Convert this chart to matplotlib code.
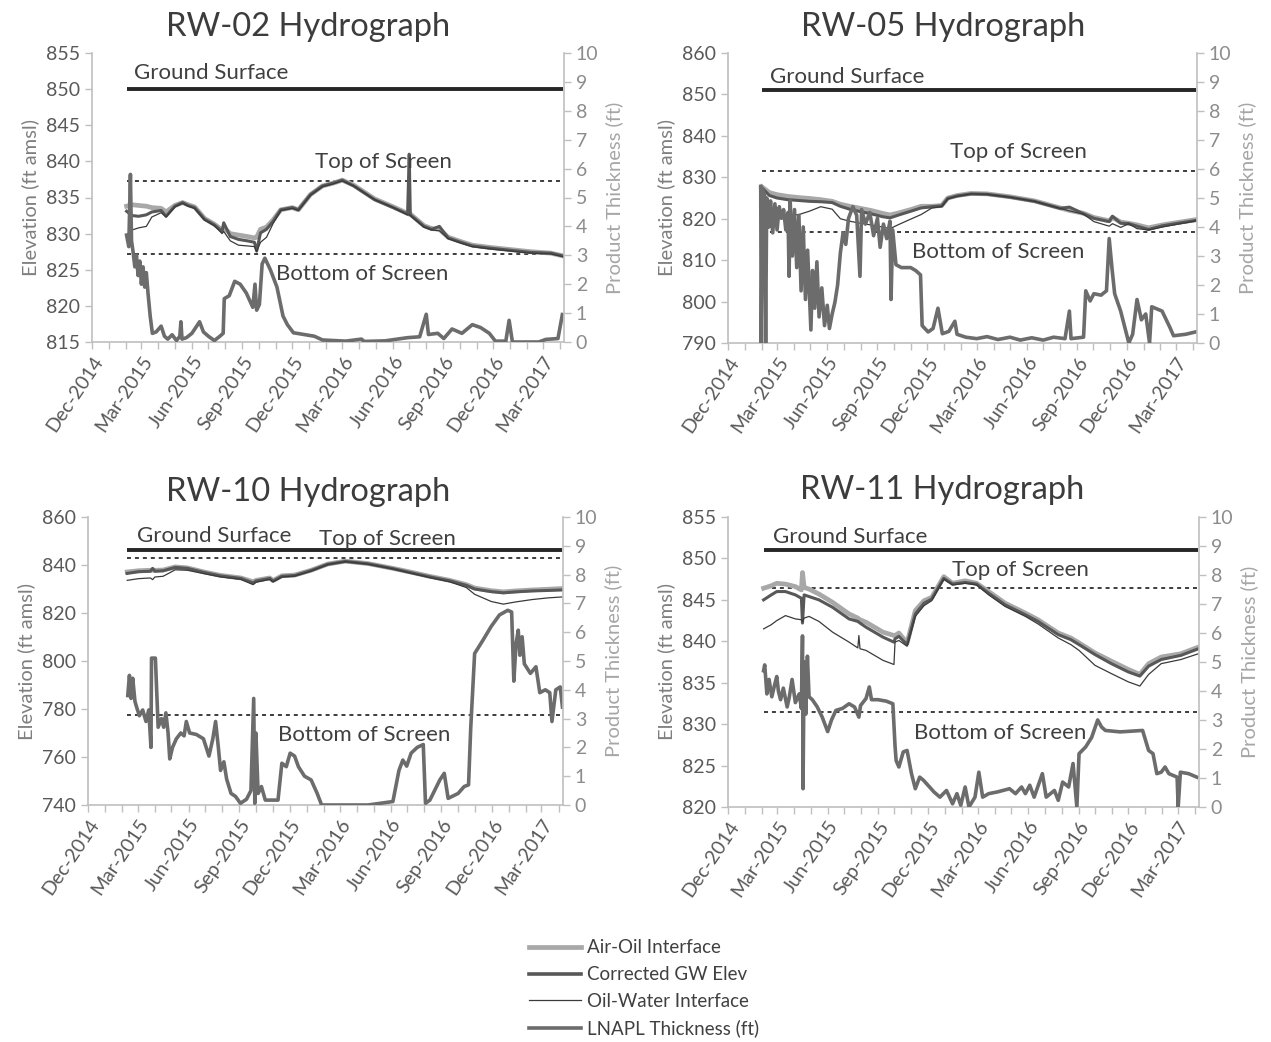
import matplotlib
matplotlib.use("Agg")
import matplotlib.pyplot as plt
import matplotlib.dates as mdates
from matplotlib.lines import Line2D
import pandas as pd

plt.rcParams["font.family"] = ["Lato", "DejaVu Sans"]

W, H = 1271, 1042

# ---------------- RW-02 ----------------
rw02_dates = ["2015-02-02", "2015-02-12", "2015-02-24", "2015-03-10", "2015-03-20", "2015-04-06",
              "2015-04-15", "2015-05-01", "2015-05-15", "2015-05-25", "2015-06-06", "2015-06-24",
              "2015-07-12", "2015-07-26", "2015-07-29", "2015-08-10", "2015-08-25", "2015-09-10",
              "2015-09-23", "2015-09-27", "2015-10-04", "2015-10-15", "2015-10-27", "2015-11-10",
              "2015-12-01", "2015-12-12", "2016-01-03", "2016-01-25", "2016-02-14", "2016-03-01",
              "2016-03-22", "2016-04-29", "2016-06-02", "2016-06-28", "2016-07-01", "2016-07-03",
              "2016-07-28", "2016-08-11", "2016-08-25", "2016-09-10", "2016-10-03", "2016-10-24",
              "2016-11-24", "2017-01-01", "2017-02-07", "2017-03-16", "2017-04-08"]
rw02_air_oil = [833.8, 834.0, 833.9, 833.8, 833.6, 833.5, 833.0, 833.9, 834.3, 834.0, 833.7, 832.1,
                831.3, 830.5, 830.8, 830.0, 829.8, 829.6, 829.4, 829.5, 830.6, 830.9, 831.9, 833.3,
                833.6, 833.3, 835.4, 836.6, 837.0, 837.4, 836.7, 834.8, 833.7, 832.8, 832.7, 832.7,
                831.1, 830.7, 830.6, 829.5, 828.9, 828.4, 828.1, 827.8, 827.5, 827.3, 826.9]
rw02_corrected = [833.1, 832.5, 832.4, 832.6, 833.0, 833.2, 832.4, 833.8, 834.3, 833.9, 833.6, 832.0,
                  831.2, 830.3, 831.5, 829.6, 829.2, 829.0, 828.8, 827.6, 830.1, 830.6, 831.7, 833.3,
                  833.6, 833.3, 835.4, 836.6, 837.0, 837.4, 836.6, 834.7, 833.6, 832.7, 841.0, 832.6,
                  831.0, 830.6, 831.0, 829.4, 828.8, 828.3, 828.0, 827.7, 827.4, 827.3, 826.9]
rw02_oil_water = [829.8, 830.5, 830.8, 831.0, 832.3, 832.9, 832.3, 833.7, 834.2, 833.8, 833.5, 831.9,
                  831.1, 830.0, 830.3, 829.0, 828.4, 828.3, 828.2, 827.5, 828.8, 829.5, 831.4, 833.2,
                  833.5, 833.2, 835.3, 836.5, 836.9, 837.3, 836.6, 834.7, 833.6, 832.6, 832.6, 832.5,
                  830.9, 830.5, 830.4, 829.3, 828.7, 828.2, 827.9, 827.6, 827.3, 827.2, 826.8]
rw02_lnapl_dates = ["2015-02-02", "2015-02-06", "2015-02-09", "2015-02-11", "2015-02-14", "2015-02-17",
                    "2015-02-20", "2015-02-23", "2015-02-26", "2015-03-01", "2015-03-04", "2015-03-07",
                    "2015-03-10", "2015-03-13", "2015-03-17", "2015-03-21", "2015-03-28", "2015-04-06",
                    "2015-04-12", "2015-04-18", "2015-04-26", "2015-05-04", "2015-05-10", "2015-05-12",
                    "2015-05-14", "2015-05-22", "2015-06-01", "2015-06-15", "2015-06-22", "2015-07-01",
                    "2015-07-12", "2015-07-22", "2015-07-28", "2015-07-30", "2015-08-08", "2015-08-18",
                    "2015-08-28", "2015-09-08", "2015-09-20", "2015-09-24", "2015-09-27", "2015-10-02",
                    "2015-10-07", "2015-10-12", "2015-10-22", "2015-11-03", "2015-11-14", "2015-11-22",
                    "2015-12-03", "2015-12-22", "2016-01-10", "2016-01-25", "2016-03-07", "2016-04-05",
                    "2016-04-10", "2016-05-18", "2016-06-28", "2016-07-20", "2016-08-01", "2016-08-05",
                    "2016-08-22", "2016-09-02", "2016-09-17", "2016-10-05", "2016-10-24", "2016-11-08",
                    "2016-11-24", "2016-12-05", "2016-12-24", "2016-12-30", "2017-01-05", "2017-02-22",
                    "2017-03-07", "2017-03-29", "2017-04-06"]
rw02_lnapl = [3.7, 3.3, 5.8, 3.5, 3.1, 2.6, 3.0, 2.3, 2.8, 2.0, 2.6, 1.9, 2.4, 1.7, 0.9, 0.3, 0.35, 0.55,
              0.2, 0.1, 0.25, 0.05, 0.2, 0.7, 0.1, 0.15, 0.3, 0.7, 0.35, 0.2, 0.05, 0.2, 0.3, 1.5, 1.6,
              2.1, 2.0, 1.7, 1.2, 2.0, 1.1, 1.3, 2.7, 2.9, 2.5, 1.9, 0.9, 0.6, 0.32, 0.26, 0.2, 0.07,
              0.03, 0.1, 0.02, 0.04, 0.15, 0.18, 0.96, 0.26, 0.3, 0.12, 0.45, 0.3, 0.6, 0.5, 0.3, 0.03,
              0.03, 0.75, 0.0, 0.0, 0.09, 0.12, 0.95]
rw02_levels = [850.0, 837.3, 827.2]  # ground surface, top of screen, bottom of screen

# ---------------- RW-05 ----------------
rw05_dates = ["2015-02-01", "2015-02-15", "2015-03-01", "2015-03-20", "2015-04-10", "2015-04-29",
              "2015-05-20", "2015-06-10", "2015-06-25", "2015-07-12", "2015-08-01", "2015-08-20",
              "2015-09-10", "2015-09-24", "2015-10-10", "2015-11-01", "2015-11-20", "2015-12-10",
              "2015-12-28", "2016-01-08", "2016-01-25", "2016-02-20", "2016-03-20", "2016-05-01",
              "2016-06-15", "2016-08-01", "2016-08-18", "2016-09-13", "2016-10-02", "2016-10-30",
              "2016-11-05", "2016-11-20", "2016-12-05", "2016-12-20", "2017-01-10", "2017-02-05",
              "2017-03-05", "2017-04-08"]
rw05_air_oil = [827.7, 826.3, 825.8, 825.4, 825.1, 824.9, 824.6, 824.2, 823.5, 823.0, 822.5, 822.0,
                821.3, 820.9, 821.4, 822.2, 823.0, 823.0, 823.2, 825.0, 825.6, 826.1, 826.0, 825.3,
                824.3, 822.6, 822.0, 821.3, 820.3, 819.5, 820.3, 819.2, 818.9, 818.5, 817.8, 818.5,
                819.1, 819.8]
rw05_corrected = [827.5, 825.6, 825.0, 824.6, 824.4, 824.2, 824.1, 823.9, 823.0, 822.3, 821.7, 821.2,
                  820.5, 820.2, 820.9, 821.8, 822.6, 822.9, 823.1, 824.9, 825.5, 826.0, 825.9, 825.2,
                  824.2, 822.5, 822.8, 821.2, 820.1, 819.3, 820.6, 818.9, 818.8, 818.2, 817.4, 818.3,
                  818.9, 819.6]
rw05_oil_water = [822.5, 821.5, 821.8, 820.8, 821.0, 821.8, 822.9, 822.3, 820.0, 819.4, 818.9, 818.5,
                  818.0, 817.6, 818.6, 819.9, 821.0, 822.6, 822.9, 824.8, 825.4, 826.0, 825.9, 825.2,
                  824.2, 822.5, 821.9, 821.1, 819.3, 818.2, 818.8, 817.9, 818.8, 817.6, 817.3, 818.0,
                  818.7, 819.5]
rw05_lnapl_dates = ["2015-01-30", "2015-01-31", "2015-02-02", "2015-02-06", "2015-02-08", "2015-02-10",
                    "2015-02-14", "2015-02-17", "2015-02-21", "2015-02-25", "2015-03-01", "2015-03-05",
                    "2015-03-09", "2015-03-13", "2015-03-17", "2015-03-21", "2015-03-23", "2015-03-25",
                    "2015-03-29", "2015-04-02", "2015-04-06", "2015-04-10", "2015-04-14", "2015-04-18",
                    "2015-04-22", "2015-04-26", "2015-05-02", "2015-05-05", "2015-05-09", "2015-05-13",
                    "2015-05-17", "2015-05-22", "2015-05-27", "2015-06-01", "2015-06-05", "2015-06-10",
                    "2015-06-15", "2015-06-20", "2015-06-25", "2015-06-30", "2015-07-05", "2015-07-10",
                    "2015-07-18", "2015-07-25", "2015-07-31", "2015-08-03", "2015-08-10", "2015-08-18",
                    "2015-08-25", "2015-09-01", "2015-09-06", "2015-09-12", "2015-09-18", "2015-09-24",
                    "2015-09-26", "2015-09-29", "2015-10-05", "2015-10-15", "2015-11-01", "2015-11-10",
                    "2015-11-19", "2015-11-22", "2015-12-03", "2015-12-12", "2015-12-21", "2015-12-29",
                    "2016-01-10", "2016-01-21", "2016-01-25", "2016-02-10", "2016-03-01", "2016-03-20",
                    "2016-04-09", "2016-05-01", "2016-05-20", "2016-06-10", "2016-07-01", "2016-07-20",
                    "2016-08-10", "2016-08-18", "2016-08-21", "2016-09-13", "2016-09-17", "2016-09-25",
                    "2016-10-02", "2016-10-15", "2016-10-25", "2016-10-30", "2016-11-04", "2016-11-09",
                    "2016-11-20", "2016-12-05", "2016-12-12", "2016-12-20", "2016-12-28", "2017-01-05",
                    "2017-01-12", "2017-01-16", "2017-02-04", "2017-02-18", "2017-02-25", "2017-03-19",
                    "2017-04-06"]
rw05_lnapl = [5.4, 0.0, 5.3, 5.1, 0.0, 5.0, 4.0, 4.9, 3.8, 4.8, 3.9, 4.7, 4.3, 4.6, 3.9, 4.5, 2.3, 4.9,
              3.0, 4.6, 2.6, 4.4, 1.8, 4.0, 1.5, 3.2, 0.45, 2.5, 1.2, 2.8, 0.9, 1.9, 0.6, 1.3, 0.5, 1.0,
              1.4, 2.0, 3.1, 3.8, 3.4, 4.3, 4.7, 4.4, 2.3, 4.6, 4.1, 4.5, 3.7, 4.3, 3.3, 4.1, 3.6, 4.2,
              1.5, 3.9, 2.7, 2.6, 2.6, 2.5, 2.35, 0.6, 0.38, 0.5, 1.2, 0.32, 0.4, 0.75, 0.3, 0.2, 0.15,
              0.22, 0.12, 0.2, 0.1, 0.18, 0.1, 0.2, 0.15, 1.1, 0.15, 0.2, 1.8, 1.45, 1.7, 1.65, 1.8, 3.6,
              2.6, 1.7, 1.1, 0.0, 0.3, 1.5, 0.8, 1.0, 0.0, 1.25, 1.1, 0.55, 0.25, 0.3, 0.38]
rw05_levels = [851.1, 831.4, 816.7]

# ---------------- RW-10 ----------------
rw10_dates = ["2015-02-10", "2015-03-02", "2015-03-24", "2015-03-28", "2015-04-01", "2015-04-16",
              "2015-05-08", "2015-05-30", "2015-06-29", "2015-07-28", "2015-09-04", "2015-09-26",
              "2015-10-01", "2015-10-26", "2015-11-01", "2015-11-17", "2015-12-10", "2016-01-09",
              "2016-02-08", "2016-03-11", "2016-04-21", "2016-06-05", "2016-07-04", "2016-08-10",
              "2016-09-16", "2016-10-16", "2016-10-31", "2016-11-30", "2016-12-22", "2017-01-13",
              "2017-02-12", "2017-03-13", "2017-04-08"]
rw10_air_oil = [837.1, 837.6, 837.8, 837.8, 837.8, 837.9, 839.2, 838.8, 837.1, 835.7, 834.6, 833.0,
                833.6, 834.6, 833.5, 835.5, 835.8, 837.8, 840.4, 841.6, 840.6, 838.6, 837.2, 835.3,
                833.6, 831.8, 830.4, 829.3, 828.8, 829.2, 829.6, 829.9, 830.2]
rw10_corrected = [836.5, 837.2, 837.4, 838.6, 837.4, 837.6, 839.0, 838.6, 836.9, 835.5, 834.4, 832.5,
                  833.3, 834.4, 833.3, 835.3, 835.6, 837.7, 840.3, 841.5, 840.5, 838.5, 837.0, 835.1,
                  833.4, 831.5, 830.0, 828.9, 828.4, 828.8, 829.2, 829.4, 829.6]
rw10_oil_water = [833.6, 834.3, 834.6, 833.9, 835.0, 835.3, 838.0, 837.8, 836.4, 835.1, 834.0, 831.8,
                  832.8, 834.0, 833.0, 835.0, 835.4, 837.5, 840.2, 841.4, 840.4, 838.4, 836.8, 834.8,
                  833.0, 830.6, 827.8, 824.8, 823.7, 824.6, 825.6, 826.3, 826.7]
rw10_lnapl_dates = ["2015-02-11", "2015-02-14", "2015-02-17", "2015-02-20", "2015-02-24", "2015-02-27",
                    "2015-03-04", "2015-03-10", "2015-03-16", "2015-03-21", "2015-03-25", "2015-03-26",
                    "2015-04-02", "2015-04-07", "2015-04-13", "2015-04-17", "2015-04-21", "2015-04-25",
                    "2015-04-28", "2015-05-03", "2015-05-10", "2015-05-18", "2015-05-24", "2015-05-28",
                    "2015-06-03", "2015-06-15", "2015-06-28", "2015-07-08", "2015-07-15", "2015-07-20",
                    "2015-07-25", "2015-07-29", "2015-08-04", "2015-08-09", "2015-08-17", "2015-08-25",
                    "2015-09-03", "2015-09-14", "2015-09-22", "2015-09-27", "2015-09-29", "2015-10-01",
                    "2015-10-05", "2015-10-11", "2015-10-18", "2015-11-10", "2015-11-17", "2015-11-25",
                    "2015-12-02", "2015-12-10", "2015-12-17", "2015-12-28", "2016-01-09", "2016-01-20",
                    "2016-01-28", "2016-04-21", "2016-06-05", "2016-06-16", "2016-06-23", "2016-06-30",
                    "2016-07-08", "2016-07-19", "2016-07-30", "2016-08-03", "2016-08-11", "2016-08-29",
                    "2016-09-06", "2016-09-13", "2016-10-01", "2016-10-12", "2016-10-20", "2016-10-24",
                    "2016-10-31", "2016-11-15", "2016-11-30", "2016-12-15", "2016-12-30", "2017-01-06",
                    "2017-01-10", "2017-01-14", "2017-01-18", "2017-01-21", "2017-01-25", "2017-01-29",
                    "2017-02-09", "2017-02-19", "2017-02-26", "2017-03-08", "2017-03-16", "2017-03-20",
                    "2017-03-27", "2017-04-04", "2017-04-08"]
rw10_lnapl = [3.8, 4.5, 3.7, 4.4, 3.6, 3.4, 3.1, 3.3, 2.9, 3.3, 2.0, 5.1, 5.1, 2.7, 3.0, 2.7, 3.2, 2.5,
              1.6, 2.0, 2.3, 2.5, 2.4, 2.9, 2.5, 2.45, 2.3, 1.7, 2.3, 2.9, 2.0, 1.2, 1.5, 0.9, 0.4, 0.3,
              0.06, 0.2, 0.5, 3.7, 0.06, 2.5, 0.4, 0.64, 0.17, 0.17, 1.45, 1.33, 1.8, 1.7, 1.33, 1.0,
              0.87, 0.4, 0.0, 0.0, 0.12, 1.2, 1.56, 1.35, 1.8, 2.0, 2.1, 0.06, 0.17, 0.87, 1.1, 0.23,
              0.4, 0.64, 0.7, 2.7, 5.26, 5.72, 6.2, 6.6, 6.76, 6.7, 4.3, 5.6, 6.07, 5.2, 5.84, 4.9,
              4.57, 4.8, 3.9, 4.0, 3.9, 2.9, 4.0, 4.1, 3.4]
rw10_levels = [846.4, 843.1, 777.5]

# ---------------- RW-11 ----------------
rw11_dates = ["2015-02-04", "2015-02-18", "2015-02-28", "2015-03-16", "2015-04-03", "2015-04-14",
              "2015-04-16", "2015-04-19", "2015-04-28", "2015-05-16", "2015-06-10", "2015-07-10",
              "2015-07-26", "2015-07-28", "2015-07-30", "2015-08-10", "2015-09-10", "2015-09-30",
              "2015-10-02", "2015-10-09", "2015-10-24", "2015-11-08", "2015-11-24", "2015-12-08",
              "2015-12-23", "2015-12-30", "2016-01-15", "2016-02-07", "2016-02-28", "2016-03-21",
              "2016-04-20", "2016-05-27", "2016-06-19", "2016-07-26", "2016-08-18", "2016-09-02",
              "2016-10-01", "2016-10-31", "2016-12-01", "2016-12-22", "2017-01-07", "2017-01-30",
              "2017-03-07", "2017-04-08"]
rw11_air_oil = [846.4, 846.7, 847.0, 846.9, 846.6, 846.2, 848.3, 846.5, 846.3, 845.7, 844.7, 843.3,
                842.8, 842.7, 842.6, 842.3, 841.1, 840.7, 840.7, 841.0, 839.8, 843.7, 844.9, 845.3,
                847.0, 847.8, 847.0, 847.3, 847.0, 846.0, 844.6, 843.4, 842.6, 841.0, 840.4, 839.8,
                838.6, 837.6, 836.6, 836.0, 837.3, 838.1, 838.5, 839.3]
rw11_corrected = [845.0, 845.6, 846.0, 846.0, 845.6, 845.2, 842.2, 845.6, 845.4, 845.0, 844.1, 842.7,
                  842.4, 842.3, 842.2, 841.7, 840.5, 839.9, 840.3, 840.6, 839.6, 843.3, 844.6, 845.1,
                  846.8, 847.6, 846.9, 847.1, 846.9, 845.8, 844.4, 843.2, 842.4, 840.8, 840.2, 839.6,
                  838.4, 837.3, 836.3, 835.8, 837.0, 837.8, 838.3, 839.1]
rw11_oil_water = [841.5, 842.0, 842.5, 843.1, 842.7, 842.6, 842.4, 842.8, 843.0, 842.4, 841.1, 839.9,
                  839.2, 840.7, 839.1, 838.9, 837.7, 837.2, 839.9, 840.1, 839.4, 843.0, 844.3, 844.9,
                  846.7, 847.5, 846.8, 847.0, 846.8, 845.6, 844.2, 843.0, 842.1, 840.4, 839.6, 838.9,
                  837.1, 836.1, 835.1, 834.6, 836.0, 837.3, 837.8, 838.5]
rw11_lnapl_dates = ["2015-02-04", "2015-02-06", "2015-02-10", "2015-02-14", "2015-02-19", "2015-02-24",
                    "2015-02-28", "2015-03-03", "2015-03-07", "2015-03-12", "2015-03-19", "2015-03-23",
                    "2015-03-28", "2015-04-03", "2015-04-10", "2015-04-14", "2015-04-16", "2015-04-17",
                    "2015-04-19", "2015-04-22", "2015-04-25", "2015-04-28", "2015-05-04", "2015-05-13",
                    "2015-05-22", "2015-06-01", "2015-06-08", "2015-06-16", "2015-06-28", "2015-07-10",
                    "2015-07-20", "2015-07-28", "2015-07-31", "2015-08-10", "2015-08-16", "2015-08-20",
                    "2015-09-01", "2015-09-16", "2015-09-28", "2015-10-02", "2015-10-04", "2015-10-09",
                    "2015-10-17", "2015-10-24", "2015-11-01", "2015-11-08", "2015-11-16", "2015-11-23",
                    "2015-12-04", "2015-12-12", "2015-12-23", "2016-01-04", "2016-01-15", "2016-01-23",
                    "2016-01-30", "2016-02-07", "2016-02-14", "2016-02-25", "2016-03-03", "2016-03-10",
                    "2016-03-21", "2016-04-06", "2016-04-28", "2016-05-09", "2016-05-20", "2016-05-27",
                    "2016-06-04", "2016-06-12", "2016-06-27", "2016-07-04", "2016-07-19", "2016-07-26",
                    "2016-08-03", "2016-08-14", "2016-08-22", "2016-08-29", "2016-09-02", "2016-09-14",
                    "2016-09-25", "2016-10-06", "2016-10-13", "2016-10-20", "2016-11-16", "2016-12-27",
                    "2017-01-07", "2017-01-15", "2017-01-22", "2017-01-30", "2017-02-06", "2017-02-13",
                    "2017-02-28", "2017-03-02", "2017-03-06", "2017-03-21", "2017-04-05"]
rw11_lnapl = [4.7, 4.9, 3.9, 4.4, 3.8, 4.2, 4.5, 4.0, 3.7, 4.1, 3.45, 3.8, 4.4, 3.6, 3.9, 3.4, 5.9, 0.63,
              5.0, 3.2, 5.2, 3.8, 3.7, 3.45, 3.1, 2.6, 3.0, 3.33, 3.4, 3.56, 3.45, 3.1, 3.5, 3.74, 4.14,
              3.7, 3.7, 3.65, 3.56, 2.1, 1.6, 1.38, 1.9, 1.95, 1.15, 0.63, 1.03, 0.92, 0.69, 0.52, 0.34,
              0.57, 0.11, 0.46, 0.06, 0.69, 0.0, 0.34, 1.2, 0.34, 0.46, 0.52, 0.63, 0.46, 0.69, 0.46,
              0.75, 0.34, 1.15, 0.34, 0.57, 0.23, 0.86, 0.69, 1.5, 0.0, 1.84, 2.07, 2.4, 3.0, 2.76,
              2.64, 2.59, 2.64, 1.95, 1.84, 1.15, 1.2, 1.38, 1.15, 1.03, 0.0, 1.2, 1.15, 1.03]
rw11_levels = [851.0, 846.4, 831.5]

legend_labels = ["Air-Oil Interface", "Corrected GW Elev", "Oil-Water Interface", "LNAPL Thickness (ft)"]

# colours (grayscale scan)
AIR = "#a8a8a8"
GW = "#585858"
OW = "#3a3a3a"
LN = "#6c6c6c"
SPINE = "#bfbfbf"
TXT = "#404040"

x_min = pd.Timestamp("2014-12-01")
x_max = pd.Timestamp("2017-04-09")

fig = plt.figure(figsize=(W / 100, H / 100), dpi=100)


def px(x, y):
    return x / W, 1 - y / H


def draw(box, title, title_xy, dates, ao, gw, ow, ln_dates, ln, levels, ylim, ystep, notes):
    l, t, r, b = box
    ax = fig.add_axes([l / W, 1 - b / H, (r - l) / W, (b - t) / H])
    ax2 = ax.twinx()

    d = pd.to_datetime(dates)
    ld = pd.to_datetime(ln_dates)
    span = [d[0], d[-1]]

    ax.plot(span, [levels[0]] * 2, color="#262626", lw=2.8, solid_capstyle="butt")
    for lev in levels[1:]:
        ax.plot(span, [lev] * 2, color="#2e2e2e", lw=1.3, ls=(0, (2.2, 2.2)))
    ax.plot(d, ao, color=AIR, lw=3.4)
    ax.plot(d, gw, color=GW, lw=2.2)
    ax.plot(d, ow, color=OW, lw=0.9)
    ax2.plot(ld, ln, color=LN, lw=2.6)

    ax.set_xlim(x_min, x_max)
    ax.set_ylim(*ylim)
    ax.set_yticks(range(ylim[0], ylim[1] + 1, ystep))
    ax2.set_ylim(0, 10)
    ax2.set_yticks(range(0, 11))

    ax.xaxis.set_major_locator(mdates.MonthLocator(bymonth=[3, 6, 9, 12]))
    ax.xaxis.set_minor_locator(mdates.MonthLocator())
    ax.xaxis.set_major_formatter(mdates.DateFormatter("%b-%Y"))
    ax.tick_params(axis="x", which="both", length=5, width=1, color=SPINE,
                   labelsize=14, labelcolor="#595959", pad=3)
    plt.setp(ax.get_xticklabels(), rotation=56, ha="right", rotation_mode="anchor")
    ax.tick_params(axis="y", length=5, width=1, color=SPINE, labelsize=14, labelcolor="#595959")
    ax2.tick_params(axis="y", length=5, width=1, color=SPINE, labelsize=14, labelcolor="#8c8c8c")

    for s in ("top", "right"):
        ax.spines[s].set_visible(False)
    for s in ("top", "left", "bottom"):
        ax2.spines[s].set_visible(False)
    for sp in (ax.spines["left"], ax.spines["bottom"], ax2.spines["right"]):
        sp.set_color(SPINE)
        sp.set_linewidth(1.2)

    ax.set_ylabel("Elevation (ft amsl)", fontsize=14.5, color="#7f7f7f", labelpad=5)
    ax2.set_ylabel("Product Thickness (ft)", fontsize=14.5, color="#a6a6a6", labelpad=5)

    fig.text(*px(*title_xy), title, ha="center", va="center", fontsize=23.5, color="#3c3c3c")
    for txt, x, y in notes:
        fig.text(*px(x, y), txt, ha="center", va="center", fontsize=16, color=TXT)


draw((92, 53, 564, 342), "RW-02 Hydrograph", (308, 27),
     rw02_dates, rw02_air_oil, rw02_corrected, rw02_oil_water, rw02_lnapl_dates, rw02_lnapl,
     rw02_levels, (815, 855), 5,
     [("Ground Surface", 211, 73), ("Top of Screen", 383, 162), ("Bottom of Screen", 362, 274)])

draw((728, 53, 1197, 343), "RW-05 Hydrograph", (943, 27),
     rw05_dates, rw05_air_oil, rw05_corrected, rw05_oil_water, rw05_lnapl_dates, rw05_lnapl,
     rw05_levels, (790, 860), 10,
     [("Ground Surface", 847, 77), ("Top of Screen", 1018, 152), ("Bottom of Screen", 998, 252)])

draw((88, 517, 563, 805), "RW-10 Hydrograph", (308, 492),
     rw10_dates, rw10_air_oil, rw10_corrected, rw10_oil_water, rw10_lnapl_dates, rw10_lnapl,
     rw10_levels, (740, 860), 20,
     [("Ground Surface", 214, 536), ("Top of Screen", 387, 539), ("Bottom of Screen", 364, 735)])

draw((728, 517, 1199, 807), "RW-11 Hydrograph", (942, 490),
     rw11_dates, rw11_air_oil, rw11_corrected, rw11_oil_water, rw11_lnapl_dates, rw11_lnapl,
     rw11_levels, (820, 855), 5,
     [("Ground Surface", 850, 537), ("Top of Screen", 1020, 570), ("Bottom of Screen", 1000, 733)])

handles = [Line2D([], [], color=AIR, lw=3.4), Line2D([], [], color=GW, lw=2.6),
           Line2D([], [], color=OW, lw=0.9), Line2D([], [], color=LN, lw=2.6)]
fig.legend(handles, legend_labels, loc="upper left", bbox_to_anchor=px(520, 930), frameon=False,
           fontsize=13.5, handlelength=2.75, handletextpad=0.3, labelspacing=0.52, borderpad=0,
           labelcolor=TXT)

fig.savefig("out.png", dpi=100)
